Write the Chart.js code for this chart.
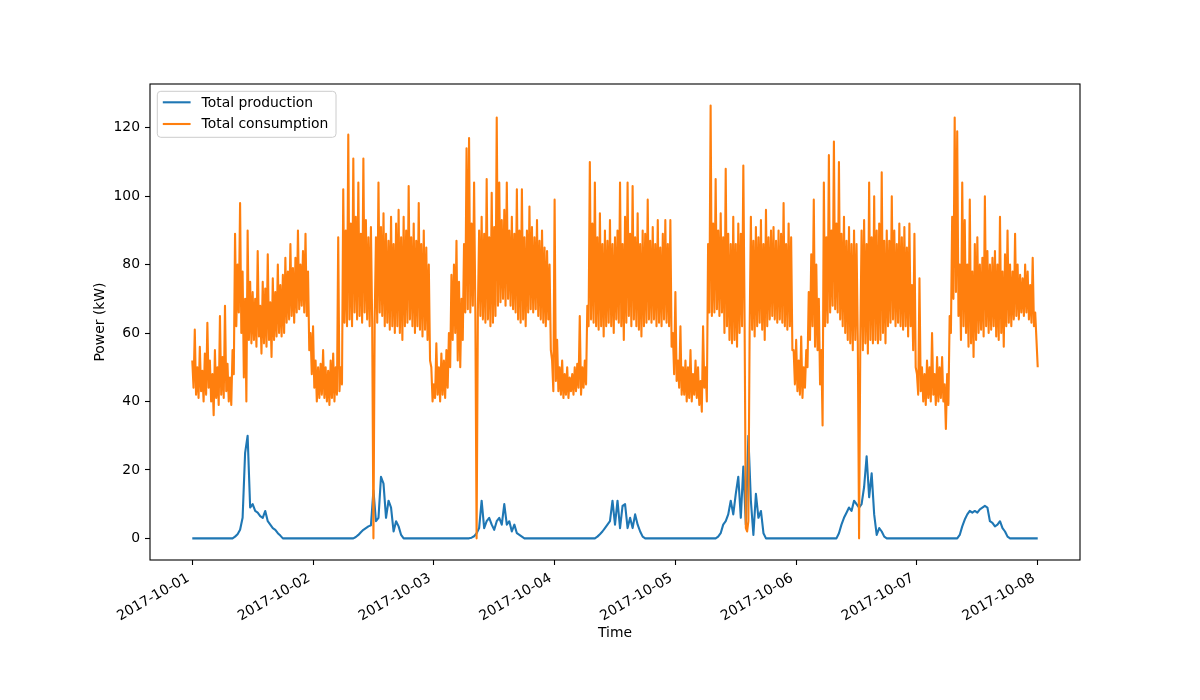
<!DOCTYPE html>
<html>
<head>
<meta charset="utf-8">
<script src="https://cdn.jsdelivr.net/npm/chart.js@4.4.0/dist/chart.umd.min.js"></script>
<style>
html,body{margin:0;padding:0;background:#fff;}
#wrap{width:1200px;height:700px;}
</style>
</head>
<body>
<div id="wrap"><canvas id="c" width="1200" height="700"></canvas></div>
<script>
// ---- data, starting 2017-10-01 00:00 ----
const productionStepHours = 0.5;    // half-hourly samples
const consumptionStepHours = 0.25;  // quarter-hourly samples
const seriesNames = ['Total production', 'Total consumption'];
const xTickHours = [0, 24, 48, 72, 96, 120, 144, 168];
const xTickLabels = ['2017-10-01', '2017-10-02', '2017-10-03', '2017-10-04', '2017-10-05', '2017-10-06', '2017-10-07', '2017-10-08'];
const yTickValues = [0, 20, 40, 60, 80, 100, 120];

const production = [
  // 10-01
  0,0,0,0,0,0,0,0,0,0,0,0,
  0,0,0,0,0,0.5,1.2,2.5,6,25,30,9,
  10,8,7.5,6.5,6,8,5,4,3,2.5,1.5,0.8,
  0,0,0,0,0,0,0,0,0,0,0,0,
  // 10-02
  0,0,0,0,0,0,0,0,0,0,0,0,
  0,0,0,0,0,0.4,1,1.8,2.5,3,3.5,3.8,
  14,5,6,18,16,6,11,9,2,5,3.5,1,
  0,0,0,0,0,0,0,0,0,0,0,0,
  // 10-03
  0,0,0,0,0,0,0,0,0,0,0,0,
  0,0,0,0.2,0.6,1.5,3,11,3,5,6,4,
  2.5,5,6,4,10,4,5,2,4,1.5,1,0.5,
  0,0,0,0,0,0,0,0,0,0,0,0,
  // 10-04
  0,0,0,0,0,0,0,0,0,0,0,0,
  0,0,0,0,0,0.5,1.2,2,3,4,5,11,
  4,11,3,9.5,10,3,6,3,7,4,2,0.5,
  0,0,0,0,0,0,0,0,0,0,0,0,
  // 10-05
  0,0,0,0,0,0,0,0,0,0,0,0,
  0,0,0,0,0,0.5,1.5,4,5,7,11,7,
  13,18,6,21,4,30,11,1,13,6,8,1.5,
  0,0,0,0,0,0,0,0,0,0,0,0,
  // 10-06
  0,0,0,0,0,0,0,0,0,0,0,0,
  0,0,0,0,0,1.5,4,6,7.5,9,8,11,
  10,9,10,15,24,12,19,7,1,3,2,0.5,
  0,0,0,0,0,0,0,0,0,0,0,0,
  // 10-07
  0,0,0,0,0,0,0,0,0,0,0,0,
  0,0,0,0,0,1,3.5,5.5,7,8,7.5,8,
  7.5,8.5,9,9.5,9,5,4.5,3.5,4,5,3,2,
  0.5,0,0,0,0,0,0,0,0,0,0,0,
  // 10-08 00:00
  0
];

const consumption = [
  // 10-01
  52,44,61,42,50,41,56,43,49,40,54,42,63,44,52,40,48,36,55,41,50,39,65,42,
  53,41,68,43,51,40,47,39,55,48,89,62,80,66,98,60,78,47,70,40,90,58,75,57,
  72,58,70,56,84,59,68,54,75,57,73,56,83,58,69,53,76,58,72,59,80,60,74,59,
  77,60,82,63,78,64,86,65,79,63,82,66,90,67,80,68,84,66,89,65,78,55,60,48,
  // 10-02
  62,44,52,40,50,41,51,42,55,41,50,40,49,39,52,41,54,40,50,42,88,43,50,45,
  102,63,90,62,118,64,92,62,111,66,94,64,104,65,89,63,111,66,93,64,88,62,91,63,
  0,64,88,63,104,66,91,65,95,62,89,63,87,61,94,62,86,60,92,62,96,60,88,58,
  94,62,90,63,103,64,88,62,92,60,87,62,98,61,86,59,90,61,85,58,80,52,50,40,
  // 10-03
  45,41,57,42,50,40,54,42,52,41,55,44,60,50,77,58,80,60,87,52,75,50,70,58,
  86,66,114,67,117,66,92,68,104,66,0,66,90,65,94,64,89,63,105,64,88,62,101,63,
  91,65,123,68,104,69,93,70,96,68,104,70,90,68,94,67,89,66,102,64,90,63,102,64,
  88,62,90,66,97,67,91,66,88,67,93,65,87,64,90,63,85,62,84,64,80,55,52,43,
  // 10-04
  99,46,58,43,50,42,52,41,48,42,50,41,47,43,48,42,50,43,51,44,65,42,50,44,
  52,45,68,62,110,64,92,63,104,62,88,61,95,62,86,59,90,62,87,63,93,62,86,60,
  88,64,90,63,104,62,86,58,94,63,104,65,89,62,103,64,88,62,95,61,86,59,90,62,
  89,63,99,64,87,63,91,64,86,62,93,63,85,62,89,64,93,63,86,62,93,56,60,48,
  // 10-05
  72,46,52,44,62,42,50,42,52,40,50,41,55,40,48,42,52,41,50,39,46,37,62,44,
  50,40,86,66,126.5,65,92,66,105,67,90,65,95,66,88,60,108,62,89,58,86,57,94,58,
  86,56,92,60,89,62,109,64,3,2,5,60,94,61,87,59,91,62,88,63,93,61,86,58,
  96,62,88,64,90,65,91,64,87,63,90,64,89,63,98,62,86,61,92,62,88,55,55,45,
  // 10-06
  58,43,52,42,59,41,50,44,55,50,72,58,83,62,99,56,80,55,70,45,55,33,104,62,
  88,63,112,66,90,68,116,67,92,66,110,64,89,62,94,60,87,58,91,57,86,55,90,58,
  86,57,0,58,90,55,93,57,86,54,104,58,88,57,100,58,90,57,92,58,107,60,87,57,
  90,62,87,63,100,64,90,62,86,63,92,62,88,61,91,62,85,59,92,62,74,55,89,50,
  // 10-07
  48,42,76,43,50,40,48,39,52,41,50,40,60,42,48,39,53,40,50,41,53,40,45,32,
  48,39,65,60,94,70,123,72,119,65,80,58,104,62,93,60,80,56,99,57,78,53,86,58,
  88,60,80,61,82,59,100,62,84,60,80,61,82,62,84,59,80,58,94,60,78,56,83,62,
  90,63,80,62,78,64,89,65,80,64,77,66,76,65,80,66,78,64,74,63,82,62,66,58,
  // 10-08 00:00
  50
];

// ---- chart ----
const FONT = 'DejaVu Sans';
const FSIZE = 13.9;
const toPoints = (arr, step) => arr.map((v, i) => ({x: i * step, y: v}));

const framePlugin = {
  id: 'mplFrame',
  afterDatasetsDraw(chart) {
    const {ctx, chartArea: a} = chart;
    ctx.save();
    ctx.strokeStyle = '#000';
    ctx.lineWidth = 1.1;
    ctx.strokeRect(a.left, a.top, a.right - a.left, a.bottom - a.top);
    ctx.restore();
  }
};

const legendPlugin = {
  id: 'mplLegend',
  afterDraw(chart) {
    const {ctx, chartArea: a} = chart;
    const x0 = a.left + 7.3, y0 = a.top + 7.3, w = 178.7, h = 46, r = 3.5;
    ctx.save();
    ctx.beginPath();
    ctx.moveTo(x0 + r, y0);
    ctx.lineTo(x0 + w - r, y0);
    ctx.arcTo(x0 + w, y0, x0 + w, y0 + r, r);
    ctx.lineTo(x0 + w, y0 + h - r);
    ctx.arcTo(x0 + w, y0 + h, x0 + w - r, y0 + h, r);
    ctx.lineTo(x0 + r, y0 + h);
    ctx.arcTo(x0, y0 + h, x0, y0 + h - r, r);
    ctx.lineTo(x0, y0 + r);
    ctx.arcTo(x0, y0, x0 + r, y0, r);
    ctx.closePath();
    ctx.fillStyle = 'rgba(255,255,255,0.8)';
    ctx.fill();
    ctx.strokeStyle = '#cccccc';
    ctx.lineWidth = 1;
    ctx.stroke();
    chart.data.datasets.forEach((ds, k) => {
      const yy = y0 + 11 + k * 21.7;
      ctx.beginPath();
      ctx.moveTo(x0 + 5.5, yy);
      ctx.lineTo(x0 + 33.3, yy);
      ctx.strokeStyle = ds.borderColor;
      ctx.lineWidth = 2.1;
      ctx.stroke();
      ctx.fillStyle = '#000';
      ctx.font = FSIZE + 'px "' + FONT + '"';
      ctx.textBaseline = 'middle';
      ctx.textAlign = 'left';
      ctx.fillText(ds.label, x0 + 44.3, yy + 0.7);
    });
    ctx.restore();
  }
};

const gridOpts = {drawOnChartArea: false, drawTicks: true, tickLength: 5, tickColor: '#000', tickWidth: 1.1};

new Chart(document.getElementById('c'), {
  type: 'line',
  data: {
    datasets: [
      {label: seriesNames[0], data: toPoints(production, productionStepHours), borderColor: '#1f77b4', backgroundColor: '#1f77b4',
       borderWidth: 2.1, pointRadius: 0, tension: 0, fill: false, order: 2, borderJoinStyle: 'round'},
      {label: seriesNames[1], data: toPoints(consumption, consumptionStepHours), borderColor: '#ff7f0e', backgroundColor: '#ff7f0e',
       borderWidth: 2.1, pointRadius: 0, tension: 0, fill: false, order: 1, borderJoinStyle: 'round'}
    ]
  },
  options: {
    responsive: false,
    animation: false,
    devicePixelRatio: 1,
    layout: {padding: {left: 0, right: 120, top: 84, bottom: 0}},
    plugins: {legend: {display: false}, tooltip: {enabled: false}, title: {display: false}},
    scales: {
      x: {
        type: 'linear',
        min: -8.4, max: 176.4,
        afterBuildTicks: s => { s.ticks = xTickHours.map(v => ({value: v})); },
        afterFit: s => { s.height = 140; },
        ticks: {
          autoSkip: false, minRotation: 30, maxRotation: 30, padding: 5, labelOffset: -4,
          color: '#000', font: {family: FONT, size: FSIZE},
          callback: v => xTickLabels[xTickHours.indexOf(v)]
        },
        grid: gridOpts,
        border: {display: false},
        title: {display: true, text: 'Time', color: '#000', font: {family: FONT, size: FSIZE}, padding: {top: 0, bottom: 58.6}}
      },
      y: {
        type: 'linear',
        min: -6.33, max: 132.8,
        afterBuildTicks: s => { s.ticks = yTickValues.map(v => ({value: v})); },
        afterFit: s => { s.width = 150; },
        ticks: {padding: 5, color: '#000', font: {family: FONT, size: FSIZE}, callback: v => String(v)},
        grid: gridOpts,
        border: {display: false},
        title: {display: true, text: 'Power (kW)', color: '#000', font: {family: FONT, size: FSIZE}, padding: {top: 91.6, bottom: 0}}
      }
    }
  },
  plugins: [framePlugin, legendPlugin]
});
</script>
</body>
</html>
